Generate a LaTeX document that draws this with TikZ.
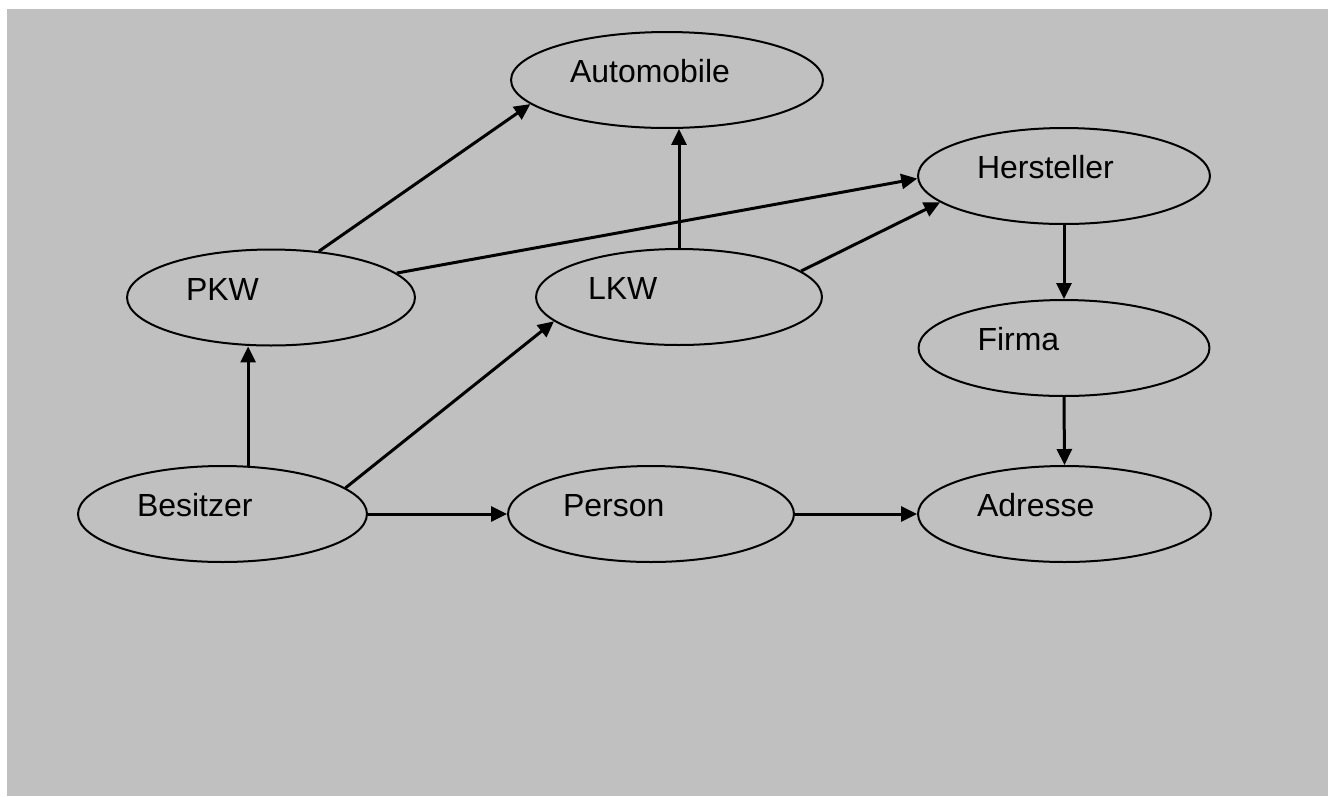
\documentclass[tikz,border=0pt]{standalone}
\usepackage{fontspec}
\setmainfont{Liberation Sans}
\usetikzlibrary{arrows.meta, shapes.geometric}
\definecolor{bggray}{RGB}{192,192,192}
\tikzset{
  entnode/.style={
    ellipse, draw=black, line width=0.04cm, inner sep=0pt,
    minimum width=#1, minimum height=1.92cm,
    text width=#1-2.36cm, align=left,
    text height=0.45cm, text depth=0.34cm,
    font=\fontsize{18.2}{22}\selectfont
  },
  entarrow/.style={-{Triangle[length=0.32cm,width=0.3cm]}, line width=0.06cm},
}

\begin{document}
\begin{tikzpicture}[x=0.02cm,y=-0.02cm]
  \useasboundingbox (0,0) rectangle (1336,796);
  \fill[bggray] (7,9) rectangle (1328,796);
  % entities
  \node[entnode=6.24cm](auto)at(667,80){Automobile};
  \node[entnode=5.84cm](herst)at(1064,176){Hersteller};
  \node[entnode=5.76cm](pkw)at(271,297.5){PKW};
  \node[entnode=5.72cm,text width=3.64cm](lkw)at(679,297){LKW};
  \node[entnode=5.82cm](firma)at(1064,348){Firma};
  \node[entnode=5.78cm](besitz)at(222.5,514){Besitzer};
  \node[entnode=5.72cm,text width=3.52cm](person)at(651,514){Person};
  \node[entnode=5.86cm](adresse)at(1064.5,514){Adresse};
  % relations
  \draw[entarrow](pkw.44.3)--(auto.190.2);
  \draw[entarrow](pkw.11.9)--(herst.181);
  \draw[entarrow](lkw.north)--(lkw.north |- auto.south);
  \draw[entarrow](lkw.12.1)--(herst.192);
  \draw[entarrow](herst.south)--(firma.north);
  \draw[entarrow](firma.south)--(adresse.north);
  \draw[entarrow](besitz.62.6)--(besitz.62.6 |- pkw.south);
  \draw[entarrow](besitz.12.2)--(lkw.191.5);
  \draw[entarrow](besitz.east)--(person.west);
  \draw[entarrow](person.east)--(adresse.west);
\end{tikzpicture}
\end{document}
